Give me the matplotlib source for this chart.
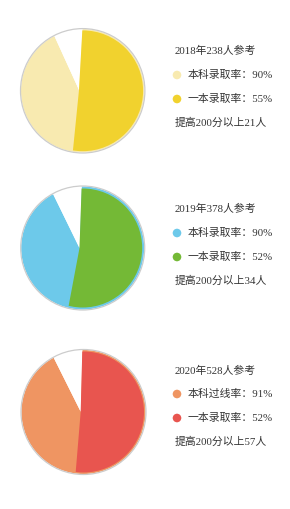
import matplotlib
matplotlib.use("Agg")
import matplotlib.pyplot as plt
from matplotlib.patches import Circle

plt.rcParams['font.family'] = ['Liberation Serif', 'Noto Sans CJK SC', 'DejaVu Sans']

# Data
years = ["2018", "2019", "2020"]
participants = [238, 378, 528]
light_labels = ["本科录取率", "本科录取率", "本科过线率"]
light_rates = [90, 90, 91]          # text values
dark_rates = [55, 52, 52]           # text values
improved = [21, 34, 57]
# wedge sizes as drawn in the picture (percent of circle)
pie_light = [92.3, 92.2, 92.2]
pie_dark = [50.7, 52.4, 50.9]
start_angles = [86.8, 88.0, 88.5]

light_colors = ["#F8EAB0", "#6DC9EA", "#EF9562"]
dark_colors = ["#F1D22E", "#74B936", "#E8554F"]

W, H = 290, 509
fig = plt.figure(figsize=(W / 100, H / 100), dpi=100)
ax = fig.add_axes([0, 0, 1, 1])

circle_centers = [(82.7, 90.8), (82.7, 248.0), (83.5, 412.0)]
apexes = [(79.0, 90.0), (79.5, 248.0), (80.7, 411.7)]
circle_r = [61.7, 61.5, 62.0]
insets = [1.3, 2.0, 1.5]
text_y = [(51, 75, 99, 123), (209, 233, 257, 281), (371, 394, 418, 442)]

txt_color = "#333333"
fs = 7.8

for i in range(3):
    cx, cy_px = circle_centers[i]
    cy = H - cy_px
    axp, ayp = apexes[i]
    ay = H - ayp
    r = circle_r[i]
    # outer gray rim
    ax.add_patch(Circle((cx, cy), r + 0.5, facecolor="none", edgecolor="#cccccc", lw=0.9, zorder=3))
    clip_light = Circle((cx, cy), r, transform=ax.transData)
    clip_dark = Circle((cx, cy), r - insets[i], transform=ax.transData)
    w1, _ = ax.pie([pie_light[i], 100 - pie_light[i]], colors=[light_colors[i], "white"],
                   startangle=start_angles[i], counterclock=False, center=(axp, ay),
                   radius=r * 1.3, wedgeprops=dict(linewidth=0))
    for w in w1:
        w.set_clip_on(True)
        w.set_clip_path(clip_light)
    w2, _ = ax.pie([pie_dark[i], 100 - pie_dark[i]], colors=[dark_colors[i], "none"],
                   startangle=start_angles[i], counterclock=False, center=(axp, ay),
                   radius=r * 1.3, wedgeprops=dict(linewidth=0))
    for w in w2:
        w.set_clip_on(True)
        w.set_clip_path(clip_dark)

    ty = text_y[i]
    ax.text(175, H - ty[0], f"{years[i]}年{participants[i]}人参考", fontsize=fs,
            color=txt_color, va="center", ha="left")
    ax.add_patch(Circle((177, H - ty[1]), 4.3, facecolor=light_colors[i], edgecolor="none"))
    ax.text(188, H - ty[1], f"{light_labels[i]}：{light_rates[i]}%", fontsize=fs,
            color=txt_color, va="center", ha="left")
    ax.add_patch(Circle((177, H - ty[2]), 4.3, facecolor=dark_colors[i], edgecolor="none"))
    ax.text(188, H - ty[2], f"一本录取率：{dark_rates[i]}%", fontsize=fs,
            color=txt_color, va="center", ha="left")
    ax.text(175, H - ty[3], f"提高200分以上{improved[i]}人", fontsize=fs,
            color=txt_color, va="center", ha="left")

ax.set_xlim(0, W)
ax.set_ylim(0, H)
ax.set_aspect("auto")
ax.axis("off")
fig.savefig("out.png", dpi=100, facecolor="white")
